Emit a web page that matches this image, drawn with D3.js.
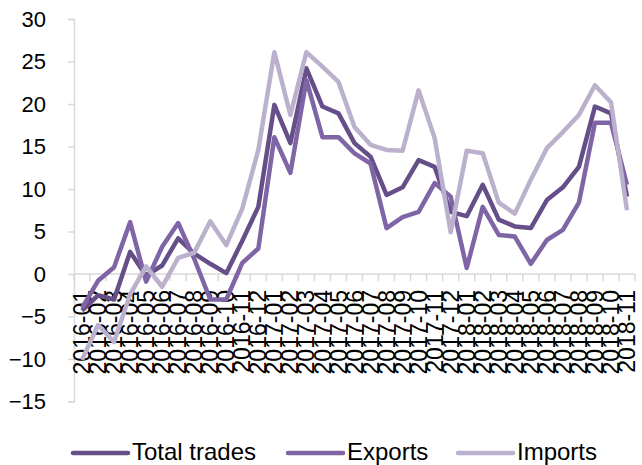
<!DOCTYPE html>
<html>
<head>
<meta charset="utf-8">
<script src="https://cdn.jsdelivr.net/npm/d3@7"></script>
<style>
  body { margin: 0; background: #fff; }
  svg { display: block; font-family: "Liberation Sans", Arial, sans-serif; }
</style>
</head>
<body>
<div id="chart"></div>
<script>
var months = ["2016-01","2016-02","2016-03","2016-04","2016-05","2016-06","2016-07","2016-08","2016-09","2016-10","2016-11","2016-12",
              "2017-01","2017-02","2017-03","2017-04","2017-05","2017-06","2017-07","2017-08","2017-09","2017-10","2017-11","2017-12",
              "2018-01","2018-02","2018-03","2018-04","2018-05","2018-06","2018-07","2018-08","2018-09","2018-10","2018-11"];

var totalTrades = [-4.3, -2.5, -3.0, 2.6, -0.2, 1.0, 4.2, 2.4, 1.2, 0.1, 3.9, 7.9,
                   19.9, 15.4, 24.2, 19.7, 18.9, 15.4, 13.8, 9.3, 10.2, 13.4, 12.6, 7.3,
                   6.8, 10.5, 6.4, 5.6, 5.4, 8.7, 10.2, 12.6, 19.7, 18.9, 9.1];

var exportsV = [-4.0, -0.8, 0.8, 6.1, -0.9, 3.2, 6.0, 1.8, -3.0, -3.0, 1.3, 3.0,
                16.1, 11.9, 22.8, 16.1, 16.1, 14.2, 13.0, 5.4, 6.7, 7.3, 10.7, 9.1,
                0.7, 7.9, 4.6, 4.4, 1.2, 4.0, 5.2, 8.4, 17.8, 17.8, 10.5];

var importsV = [-10.1, -6.0, -8.0, -2.4, 0.9, -1.5, 1.9, 2.5, 6.2, 3.4, 7.7, 14.6,
                26.1, 18.7, 26.1, 24.4, 22.6, 17.3, 15.2, 14.6, 14.5, 21.6, 16.0, 4.9,
                14.5, 14.2, 8.4, 7.1, 11.1, 14.8, 16.7, 18.7, 22.2, 20.2, 7.5];

var yTicks = [-15, -10, -5, 0, 5, 10, 15, 20, 25, 30];

var seriesNames = ["Total trades", "Exports", "Imports"];
var seriesColors = ["#664f88", "#8065a6", "#bbb1cd"];

var w = 642, h = 465;
var plot = { left: 74, right: 635, top: 19, bottom: 401.5 };

var svg = d3.select("#chart").append("svg")
            .attr("width", w)
            .attr("height", h);

var x = d3.scaleBand()
          .domain(months)
          .range([plot.left, plot.right]);

var y = d3.scaleLinear()
          .domain([-15, 30])
          .range([plot.bottom, plot.top]);

var axisColor = "#d9d9d9";

// y axis
var yAxis = d3.axisLeft(y)
              .tickValues(yTicks)
              .tickSize(6)
              .tickPadding(22)
              .tickFormat(d3.format("d"));

var gy = svg.append("g")
            .attr("transform", "translate(" + plot.left + ",0)")
            .call(yAxis);
gy.select(".domain").attr("stroke", axisColor).attr("stroke-width", 1.5);
gy.selectAll(".tick line").attr("stroke", axisColor).attr("stroke-width", 1.5);
gy.selectAll(".tick text")
  .attr("fill", "#000")
  .style("font-size", "22px")
  .attr("font-family", "Liberation Sans, Arial, sans-serif");

// x axis at zero, ticks between categories
var gx = svg.append("g");
gx.append("line")
  .attr("x1", plot.left).attr("x2", plot.right)
  .attr("y1", y(0)).attr("y2", y(0))
  .attr("stroke", axisColor).attr("stroke-width", 1.5);

var bounds = months.map(function(d) { return x(d); }).concat([plot.right]);
gx.selectAll(".xtick")
  .data(bounds)
  .enter().append("line")
  .attr("x1", function(d) { return d; })
  .attr("x2", function(d) { return d; })
  .attr("y1", y(0))
  .attr("y2", y(0) + 7)
  .attr("stroke", axisColor)
  .attr("stroke-width", 1.5);

gx.selectAll(".xlabel")
  .data(months)
  .enter().append("text")
  .attr("transform", function(d) {
    return "translate(" + (x(d) + x.bandwidth() / 2) + "," + (y(0) + 16) + ") rotate(-90)";
  })
  .attr("text-anchor", "end")
  .attr("dy", "0.35em")
  .style("font-size", "23px")
  .attr("fill", "#000")
  .text(function(d) { return d; });

// lines
var line = d3.line()
             .x(function(d, i) { return x(months[i]) + x.bandwidth() / 2; })
             .y(function(d) { return y(d); });

[totalTrades, exportsV, importsV].forEach(function(s, k) {
  svg.append("path")
     .datum(s)
     .attr("d", line)
     .attr("fill", "none")
     .attr("stroke", seriesColors[k])
     .attr("stroke-width", 4.5)
     .attr("stroke-linejoin", "round");
});

// legend
var legendX = [73, 288, 458];
var legendY = 452;
var lg = svg.append("g");
seriesNames.forEach(function(name, k) {
  lg.append("line")
    .attr("x1", legendX[k]).attr("x2", legendX[k] + 55)
    .attr("y1", legendY + 1).attr("y2", legendY + 1)
    .attr("stroke", seriesColors[k])
    .attr("stroke-width", 4.5)
    .attr("stroke-linecap", "round");
  lg.append("text")
    .attr("x", legendX[k] + 59)
    .attr("y", legendY)
    .attr("dy", "0.35em")
    .style("font-size", "24px")
    .attr("fill", "#000")
    .text(name);
});
</script>
</body>
</html>
